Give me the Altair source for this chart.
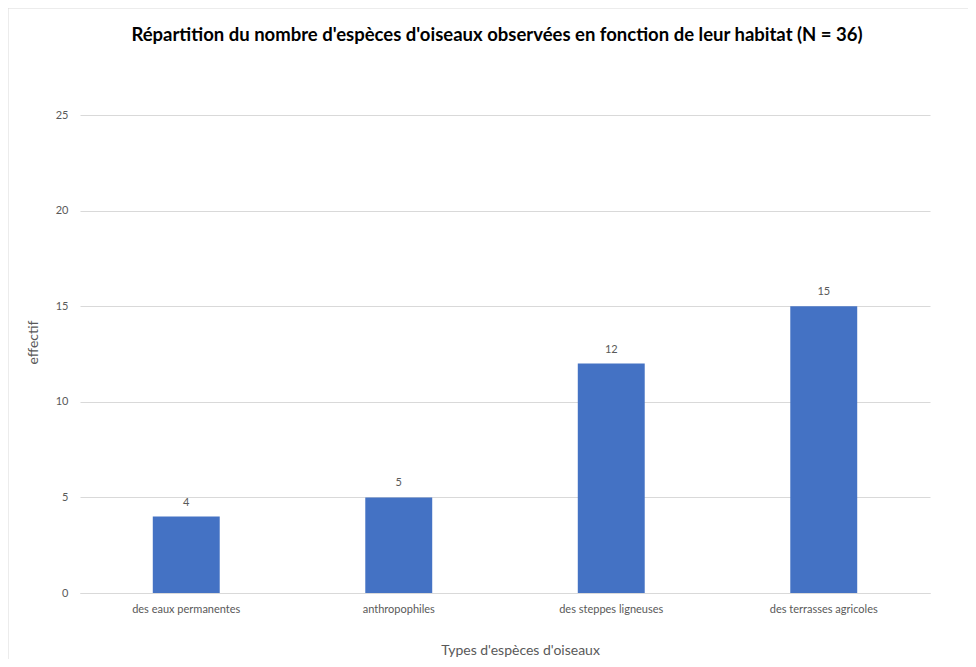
import altair as alt
import pandas as pd

categories = ["des eaux permanentes", "anthropophiles", "des steppes ligneuses", "des terrasses agricoles"]
counts = [4, 5, 12, 15]
y_ticks = [0, 5, 10, 15, 20, 25]
title_text = "Répartition du nombre d'espèces d'oiseaux observées en fonction de leur habitat (N = 36)"

df = pd.DataFrame({"type": categories, "effectif": counts})
FONT = "Lato"
GRID = "#d9d9d9"
TXT = "#595959"

yscale = alt.Scale(domain=[0, 25], nice=False, zero=True)
xscale = alt.Scale(paddingInner=0.685, paddingOuter=0.3425)

base = alt.Chart(df)

bars = base.mark_bar(color="#4472C4").encode(
    x=alt.X(
        "type:N",
        sort=categories,
        scale=xscale,
        axis=alt.Axis(
            title="Types d'espèces d'oiseaux",
            labelAngle=0, ticks=False, grid=False,
            domainColor=GRID, labelColor=TXT, labelFontSize=11, labelFont=FONT,
            labelPadding=10, titleColor=TXT, titleFontSize=14, titleFont=FONT,
            titleFontWeight="normal", titleX=440, titleY=57,
            titleBaseline="middle", titleAlign="center",
        ),
    ),
    y=alt.Y(
        "effectif:Q",
        scale=yscale,
        axis=alt.Axis(
            values=y_ticks, title="effectif", ticks=False, domain=False,
            gridColor=GRID, labelColor=TXT, labelFontSize=11, labelFont=FONT,
            labelPadding=12, titleColor=TXT, titleFontSize=14, titleFont=FONT,
            titleFontWeight="normal", titleX=-47, titleY=227,
            titleBaseline="middle", titleAlign="center", titleAngle=270,
        ),
    ),
)

labels = base.mark_text(baseline="middle", dy=-14, font=FONT, fontSize=11, color=TXT).encode(
    x=alt.X("type:N", sort=categories, scale=xscale),
    y=alt.Y("effectif:Q", scale=yscale),
    text="effectif:Q",
)

one_df = pd.DataFrame({"t": [title_text]})
top_border = alt.Chart(one_df).mark_rule(color=GRID, strokeWidth=1).encode(
    x=alt.value(-72), x2=alt.value(900), y=alt.value(-107)
)
left_border = alt.Chart(one_df).mark_rule(color=GRID, strokeWidth=1).encode(
    x=alt.value(-72), y=alt.value(-107), y2=alt.value(560)
)
title_mark = alt.Chart(one_df).mark_text(
    font=FONT, fontSize=18.5, fontWeight="bold", color="#000000",
    align="center", baseline="middle",
).encode(
    x=alt.value(417), y=alt.value(-80), text="t:N"
)

chart = alt.layer(top_border, left_border, bars, labels, title_mark).properties(
    width=850,
    height=478,
    autosize=alt.AutoSizeParams(type="none"),
    padding={"left": 72, "top": 107, "right": 38, "bottom": 66},
    background="white",
).configure_view(strokeWidth=0, stroke="transparent")

chart.save("out.html", embed_options={"renderer": "svg", "actions": False})
